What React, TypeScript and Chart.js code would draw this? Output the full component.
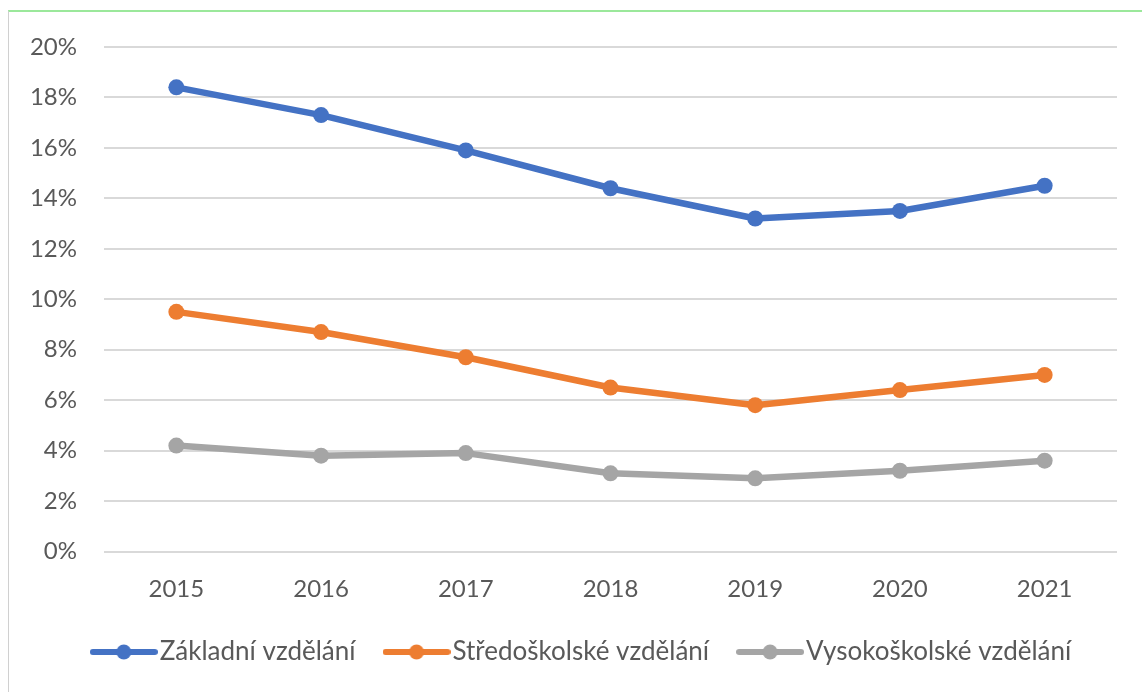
import React, { useEffect, useRef } from "react";
import { Chart, registerables } from "chart.js";

Chart.register(...registerables);

const years = ["2015", "2016", "2017", "2018", "2019", "2020", "2021"];
const zakladni = [18.4, 17.3, 15.9, 14.4, 13.2, 13.5, 14.5];
const stredoskolske = [9.5, 8.7, 7.7, 6.5, 5.8, 6.4, 7.0];
const vysokoskolske = [4.2, 3.8, 3.9, 3.1, 2.9, 3.2, 3.6];
const seriesNames = ["Základní vzdělání", "Středoškolské vzdělání", "Vysokoškolské vzdělání"];
const seriesColors = ["#4472C4", "#ED7D31", "#A5A5A5"];

const FONT = "Lato, 'Open Sans', sans-serif";
const TEXT = "#595959";

function makeMarker(color: string): HTMLCanvasElement {
  const c = document.createElement("canvas");
  c.width = 68;
  c.height = 16;
  const ctx = c.getContext("2d")!;
  ctx.strokeStyle = color;
  ctx.lineWidth = 6;
  ctx.lineCap = "round";
  ctx.beginPath();
  ctx.moveTo(3, 8);
  ctx.lineTo(65, 8);
  ctx.stroke();
  ctx.fillStyle = color;
  ctx.beginPath();
  ctx.arc(34, 8, 7.5, 0, Math.PI * 2);
  ctx.fill();
  return c;
}

const shiftLegend = {
  id: "shiftLegend",
  afterLayout(chart: any) {
    if (chart.legend) chart.legend.left = 46;
  },
};

export default function App() {
  const ref = useRef<HTMLCanvasElement | null>(null);
  useEffect(() => {
    if (!ref.current) return;
    const data = [zakladni, stredoskolske, vysokoskolske];
    const markers = seriesColors.map(makeMarker);
    const chart = new Chart(ref.current, {
      type: "line",
      data: {
        labels: years,
        datasets: data.map((d, i) => ({
          label: seriesNames[i],
          data: d,
          borderColor: seriesColors[i],
          backgroundColor: seriesColors[i],
          borderWidth: 6.5,
          borderCapStyle: "round",
          borderJoinStyle: "round",
          pointRadius: 8,
          pointBorderWidth: 0,
          pointBackgroundColor: seriesColors[i],
          pointStyle: "circle",
          tension: 0,
        })),
      },
      options: {
        responsive: false,
        animation: false,
        layout: { padding: { top: 35, right: 25, bottom: 17, left: 0 } },
        scales: {
          x: {
            offset: true,
            grid: { display: false, drawTicks: false },
            border: { display: false },
            ticks: { color: TEXT, font: { family: FONT, size: 24 }, padding: 23.6 },
            afterFit: (s: any) => { s.height = 49.5; },
          },
          y: {
            min: 0,
            max: 20,
            grid: { color: "#d9d9d9", lineWidth: 2, drawTicks: false },
            border: { display: false },
            ticks: {
              stepSize: 2,
              color: TEXT,
              font: { family: FONT, size: 24 },
              padding: 27,
              callback: (v: any) => v + "%",
            },
            afterFit: (s: any) => {
              s.width = 95;
              s.paddingTop = 14;
              s.paddingBottom = 14;
            },
          },
        },
        plugins: {
          legend: {
            position: "bottom",
            labels: {
              usePointStyle: true,
              pointStyleWidth: 46,
              padding: 38,
              color: TEXT,
              font: { family: FONT, size: 26 },
              generateLabels: (ch: any) =>
                ch.data.datasets.map((ds: any, i: number) => ({
                  text: ds.label,
                  pointStyle: markers[i],
                  fillStyle: seriesColors[i],
                  strokeStyle: seriesColors[i],
                  lineWidth: 0,
                  fontColor: TEXT,
                  hidden: false,
                  datasetIndex: i,
                })),
            },
          },
          tooltip: { enabled: false },
        },
      },
      plugins: [shiftLegend],
    } as any);
    return () => chart.destroy();
  }, []);
  return (
    <div
      style={{
        position: "fixed",
        top: 10,
        left: 8,
        width: 1134,
        height: 682,
        borderTop: "2px solid #9be89b",
        borderLeft: "1px solid #d0d0d0",
        background: "#fff",
        boxSizing: "border-box",
      }}
    >
      <canvas ref={ref} width={1133} height={680} style={{ display: "block" }} />
    </div>
  );
}
